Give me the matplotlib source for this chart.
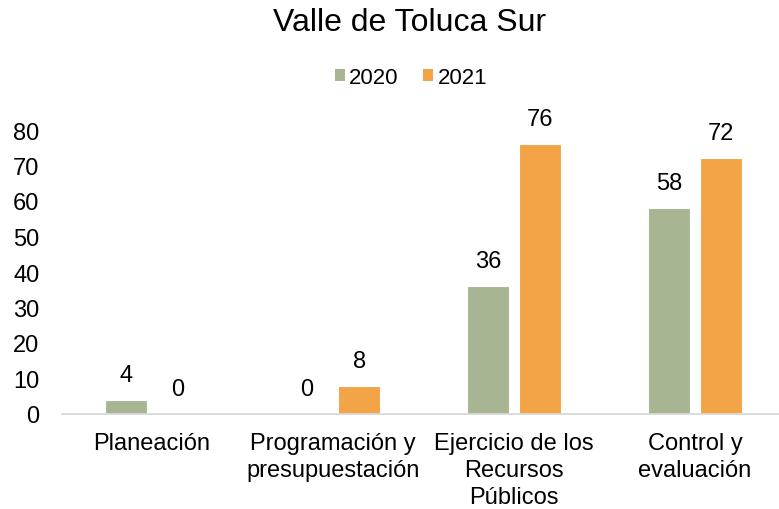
import numpy as np
import matplotlib
matplotlib.use("Agg")
import matplotlib.pyplot as plt
from matplotlib.patches import Patch

plt.rcParams["font.family"] = ["Liberation Sans", "DejaVu Sans"]

# Data
categorias = ["Planeación", "Programación y\npresupuestación",
              "Ejercicio de los\nRecursos\nPúblicos", "Control y\nevaluación"]
valores_2020 = [4, 0, 36, 58]
valores_2021 = [0, 8, 76, 72]
series = ["2020", "2021"]
colores = ["#A7B592", "#F3A446"]

FS = 17

fig = plt.figure(figsize=(7.79, 5.10), dpi=100)
ax = fig.add_axes([61.5 / 779, 95 / 510, 724 / 779, 284 / 510])

x = np.arange(len(categorias))
w = 0.232
off = 0.144
for vals, col, dx in [(valores_2020, colores[0], -off), (valores_2021, colores[1], off)]:
    bars = ax.bar(x + dx, vals, width=w, color=col, edgecolor="white", linewidth=0.8)
    for b, v in zip(bars, vals):
        ax.annotate(str(v), (b.get_x() + b.get_width() / 2, v),
                    xytext=(0, 18), textcoords="offset points",
                    ha="center", va="center", fontsize=FS, color="black")

ax.set_xlim(-0.5, 3.5)
ax.set_ylim(0, 80)
ax.set_yticks(range(0, 81, 10))
ax.set_xticks(x)
ax.set_xticklabels(categorias, fontsize=FS, linespacing=1.3)
ax.tick_params(axis="y", labelsize=FS, length=0, pad=16)
ax.tick_params(axis="x", length=0, pad=13)
for s in ["top", "right", "left"]:
    ax.spines[s].set_visible(False)
ax.spines["bottom"].set_color("#D9D9D9")
ax.spines["bottom"].set_linewidth(1.3)

fig.text(410 / 779, 1 - 23 / 510, "Valle de Toluca Sur", ha="center", va="center",
         fontsize=23)

handles = [Patch(facecolor=c, edgecolor="none") for c in colores]
fig.legend(handles, series, loc="center", bbox_to_anchor=(411 / 779, 1 - 78 / 510),
           ncol=2, frameon=False, fontsize=16, handlelength=0.45, handleheight=0.45,
           handletextpad=0.2, columnspacing=1.1)

fig.savefig("out.png", dpi=100)
